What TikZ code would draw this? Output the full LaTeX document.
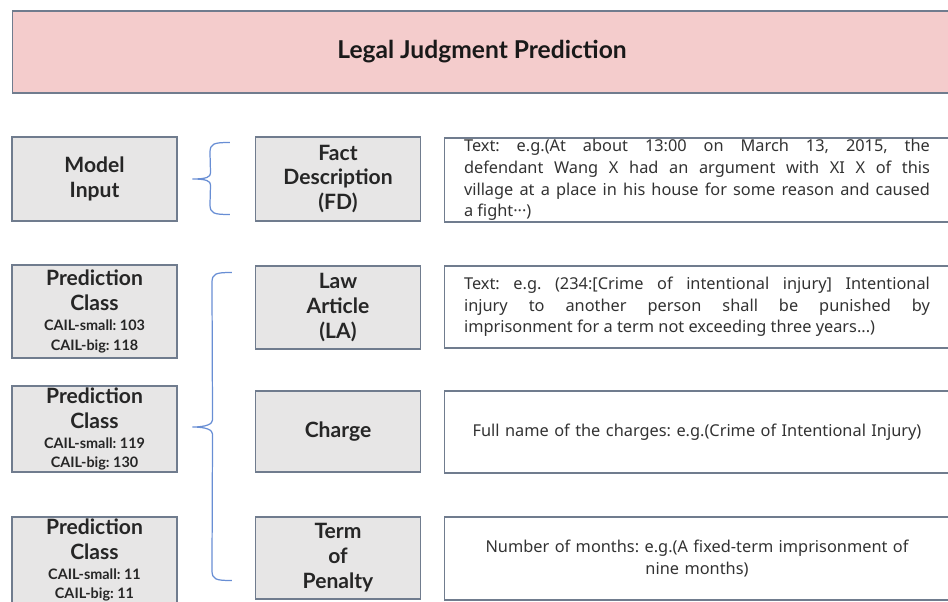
\documentclass[tikz,border=0pt]{standalone}
\usepackage{fontspec}
\setmainfont{Noto Sans}
\newfontfamily\labelfont{Lato}
\usetikzlibrary{calc}
\hyphenpenalty=10000
\exhyphenpenalty=10000
\frenchspacing

\definecolor{boxline}{RGB}{112,124,142}
\definecolor{boxgray}{RGB}{231,230,230}
\definecolor{titlepink}{RGB}{244,204,204}
\definecolor{bracecol}{RGB}{104,142,212}
\definecolor{textgray}{RGB}{50,50,50}

\newcommand{\classsize}{\fontsize{8.2}{11.3}\selectfont}

\begin{document}
\begin{tikzpicture}[x=0.02cm, y=-0.02cm,
		box/.style={draw=boxline, line width=0.6pt, inner xsep=0pt, inner ysep=0pt, align=center},
		titlebox/.style={box, fill=titlepink, text=black!90, font=\labelfont\bfseries\fontsize{14}{16}\selectfont},
		namebox/.style={box, fill=boxgray, minimum width=3.3cm, text=black!85, font=\labelfont\bfseries\fontsize{12}{14.2}\selectfont},
		textbox/.style={box, minimum width=10.12cm, text width=9.32cm, text=textgray, font=\fontsize{9.3}{12.3}\selectfont},
		brace/.style={draw=bracecol, line width=0.7pt}]

		\clip (0,0) rectangle (948,602);

		% title
		\node[titlebox, minimum width=18.8cm, minimum height=1.64cm] (title) at (482,52) {Legal Judgment Prediction};

		% model input row
		\node[namebox, minimum height=1.68cm] (input) at (94.5,179) {Model\\Input};
		\node[namebox, minimum height=1.68cm] (fd) at (338,179) {Fact\\Description\\(FD)};
		\node[textbox, align=justify, minimum height=1.68cm] (fdtext) at (697,180) {Text: e.g.(At about 13:00 on March 13, 2015, the\linebreak defendant Wang X had an argument with XI X of this\linebreak village at a place in his house for some reason and caused\linebreak a fight···)};

		% prediction classes
		\node[namebox, minimum height=1.86cm] (pred1) at (94.5,311.5) {Prediction\\Class\\[-2.9pt]{\classsize CAIL-small: 103}\\[-2.9pt]{\classsize CAIL-big: 118}};
		\node[namebox, minimum height=1.72cm] (pred2) at (94.5,429) {Prediction\\Class\\[-2.9pt]{\classsize CAIL-small: 119}\\[-2.9pt]{\classsize CAIL-big: 130}};
		\node[namebox, minimum height=1.72cm] (pred3) at (94.5,560) {Prediction\\Class\\[-2.9pt]{\classsize CAIL-small: 11}\\[-2.9pt]{\classsize CAIL-big: 11}};

		% outputs
		\node[namebox, minimum height=1.66cm] (la) at (338,307.5) {Law\\Article\\(LA)};
		\node[textbox, align=justify, minimum height=1.64cm] (latext) at (697,307) {Text: e.g. (234:[Crime of intentional injury] Intentional\linebreak injury to another person shall be punished by\linebreak imprisonment for a term not exceeding three years...)};

		\node[namebox, minimum height=1.62cm] (charge) at (338,431.5) {Charge};
		\node[textbox, minimum height=1.64cm] (chargetext) at (697,432) {Full name of the charges: e.g.(Crime of Intentional Injury)};

		\node[namebox, minimum height=1.64cm] (term) at (338,558) {Term\\of\\Penalty};
		\node[textbox, minimum height=1.66cm] (termtext) at (697,558.5) {Number of months: e.g.(A fixed-term imprisonment of\\nine months)};

		% brace points
		\coordinate (b1top) at ($(fd.north west)+(-25,6)$);
		\coordinate (b1tip) at ($(input.east)+(15,0)$);
		\coordinate (b1bot) at ($(fd.south west)+(-25,-7)$);
		\coordinate (b2top) at ($(la.north west)+(-23,7)$);
		\coordinate (b2tip) at ($(pred2.east)+(15,-2)$);
		\coordinate (b2bot) at ($(term.south west)+(-23,-19)$);

		% draw the braces
		\draw[brace] (b1top) .. controls +(-16,0) and +(0,-9) .. ($(b1top)+(-20,10)$) -- ($(b1tip)+(18,-6)$)
			.. controls +(0,4) and +(14,0) .. (b1tip) .. controls +(14,0) and +(0,-4) .. ($(b1tip)+(18,6)$)
			-- ($(b1bot)+(-20,-10)$) .. controls +(0,9) and +(-16,0) .. (b1bot);
		\draw[brace] (b2top) .. controls +(-16,0) and +(0,-9) .. ($(b2top)+(-20,10)$) -- ($(b2tip)+(20,-7)$)
			.. controls +(0,4) and +(14,0) .. (b2tip) .. controls +(14,0) and +(0,-4) .. ($(b2tip)+(20,7)$)
			-- ($(b2bot)+(-20,-10)$) .. controls +(0,9) and +(-16,0) .. (b2bot);
\end{tikzpicture}
\end{document}
